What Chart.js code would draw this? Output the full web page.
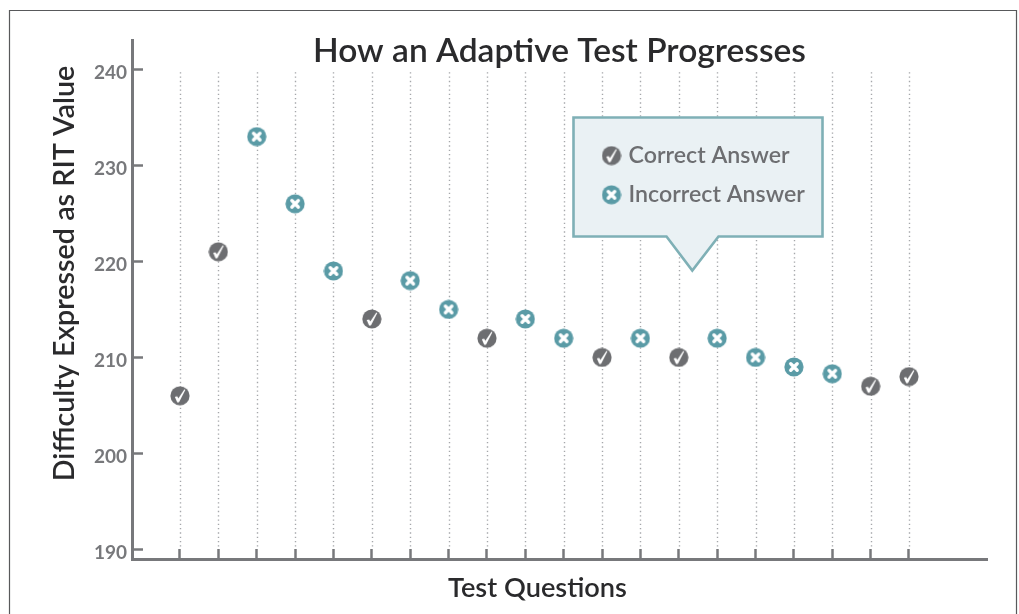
<!DOCTYPE html>
<html><head><meta charset="utf-8">
<style>html,body{margin:0;padding:0;background:#fff;overflow:hidden}#w{width:1019px;height:614px;position:relative}</style>
<script src="https://cdn.jsdelivr.net/npm/chart.js@4/dist/chart.umd.min.js"></script>
</head><body><div id="w"><canvas id="c" width="1019" height="614"></canvas></div>
<script>
const questions = [1,2,3,4,5,6,7,8,9,10,11,12,13,14,15,16,17,18,19,20];
const difficulty = [206,221,233,226,219,214,218,215,212,214,212,210,212,210,212,210,209,208.3,207,208];
const outcomes = ['C','C','I','I','I','C','I','I','C','I','I','C','I','C','I','I','I','I','C','C'];
const yTicks = [190,200,210,220,230,240];
const seriesNames = ['Correct Answer','Incorrect Answer'];
const chartTitle = 'How an Adaptive Test Progresses';
const xTitle = 'Test Questions';
const yTitle = 'Difficulty Expressed as RIT Value';

const GREY='#6d6e71', AXIS='#77787b', TEAL='#5a9ba6', INK='#2a2a2c', FONT='Lato';

function marker(color, kind){
  const s=20, c=document.createElement('canvas'); c.width=s; c.height=s;
  const g=c.getContext('2d');
  g.fillStyle=color; g.beginPath(); g.arc(10,10,9.6,0,Math.PI*2); g.fill();
  g.strokeStyle='#fff'; g.lineCap='round'; g.lineJoin='round';
  if(kind==='C'){
    g.fillStyle='#fff'; g.beginPath();
    g.moveTo(4.8,11); g.lineTo(7.2,10.4); g.lineTo(8.4,12.6); g.lineTo(14.4,3.4); g.lineTo(15.4,3.9);
    g.lineTo(9,16.4); g.lineTo(7.2,16.4); g.closePath(); g.fill();
  } else {
    g.lineWidth=3.4; g.beginPath(); g.moveTo(6.8,6.8); g.lineTo(13.2,13.2); g.moveTo(13.2,6.8); g.lineTo(6.8,13.2); g.stroke();
  }
  return c;
}
function pick(k){ return questions.map((q,i)=>({x:q,y:difficulty[i],o:outcomes[i]})).filter(p=>p.o===k); }

function shift(obj, name, dx, dy){
  const orig=obj[name];
  obj[name]=function(...a){ const g=this.ctx; g.save(); g.translate(dx,dy); orig.apply(this,a); g.restore(); };
}
function callout(g){
  g.save();
  g.beginPath();
  g.moveTo(573.5,117.5); g.lineTo(822.5,117.5); g.lineTo(822.5,236.5); g.lineTo(718.5,236.5);
  g.lineTo(692.3,270.5); g.lineTo(666.5,236.5); g.lineTo(573.5,236.5); g.closePath();
  g.fillStyle='#eaf1f4'; g.fill();
  g.strokeStyle='#7fb0b6'; g.lineWidth=2.6; g.lineJoin='miter'; g.stroke();
  g.restore();
}
const deco={
  id:'deco',
  afterLayout(chart){
    if(chart.$done) return; chart.$done=true;
    const t=chart.titleBlock; t.left=132; t.right=987; t.top=33; t.bottom=69;
    const l=chart.legend; l.left=590; l.right=830; l.top=128; l.bottom=240;
    const d=l.draw; l.draw=function(){ callout(chart.ctx); d.call(l); };
    const sx=chart.scales.x, sy=chart.scales.y;
    shift(sx,'drawTitle',-22,0);
    shift(sy,'drawTitle',0,-26);
    shift(sy,'drawLabels',0,3);
  },
  beforeDraw(chart){
    const g=chart.ctx, {x,y}=chart.scales;
    g.save();
    g.strokeStyle='#58595b'; g.lineWidth=1.2;
    g.beginPath(); g.moveTo(9.5,614); g.lineTo(9.5,10.5); g.lineTo(1016.5,10.5); g.lineTo(1016.5,614); g.stroke();
    g.strokeStyle='#a5a7aa'; g.lineWidth=1.4; g.setLineDash([1.3,3]);
    questions.forEach(q=>{
      const px=Math.round(x.getPixelForValue(q))+0.5;
      g.beginPath(); g.moveTo(px,y.getPixelForValue(239.7)); g.lineTo(px,y.getPixelForValue(190)); g.stroke();
    });
    g.restore();
  }
};
new Chart(document.getElementById('c'),{
  type:'scatter',
  plugins:[deco],
  data:{datasets:[
    {label:seriesNames[0],data:pick('C'),pointStyle:marker(GREY,'C'),backgroundColor:GREY,borderColor:GREY,showLine:false},
    {label:seriesNames[1],data:pick('I'),pointStyle:marker(TEAL,'I'),backgroundColor:TEAL,borderColor:TEAL,showLine:false}
  ]},
  options:{
    responsive:false,animation:false,devicePixelRatio:1,
    layout:{padding:{left:0,top:4,right:32,bottom:0}},
    plugins:{
      tooltip:{enabled:false},
      title:{display:true,text:chartTitle,color:INK,font:{family:FONT,size:33.5,weight:'600',lineHeight:'36px'},padding:0,fullSize:false},
      legend:{display:true,position:'chartArea',align:'start',
        labels:{usePointStyle:true,pointStyleWidth:11,color:GREY,font:{family:FONT,size:23.2,weight:'600'},padding:16}}
    },
    scales:{
      x:{type:'linear',position:'bottom',min:-0.251,max:22.033,
        afterBuildTicks(a){a.ticks=questions.map(v=>({value:v}));},
        afterFit(a){a.height=55;},
        border:{color:AXIS,width:3},
        grid:{drawOnChartArea:false,drawTicks:true,tickLength:-10,tickWidth:2.5,tickColor:AXIS},
        ticks:{display:false,autoSkip:false},
        title:{display:true,text:xTitle,color:INK,font:{family:FONT,size:27.2,weight:'600'},padding:{top:0,bottom:9}}
      },
      y:{type:'linear',position:'left',min:189,max:243.06,
        afterBuildTicks(a){a.ticks=yTicks.map(v=>({value:v}));},
        afterFit(a){a.width=132;},
        border:{color:AXIS,width:3},
        grid:{drawOnChartArea:false,drawTicks:true,tickLength:-11,tickWidth:2.5,tickColor:AXIS},
        ticks:{color:'#77787b',font:{family:FONT,size:19,weight:'bold'},padding:16,autoSkip:false,callback:v=>String(v)},
        title:{display:true,text:yTitle,color:INK,font:{family:FONT,size:28.7,weight:'600'},padding:{top:48,bottom:0}}
      }
    }
  }
});
</script></body></html>
